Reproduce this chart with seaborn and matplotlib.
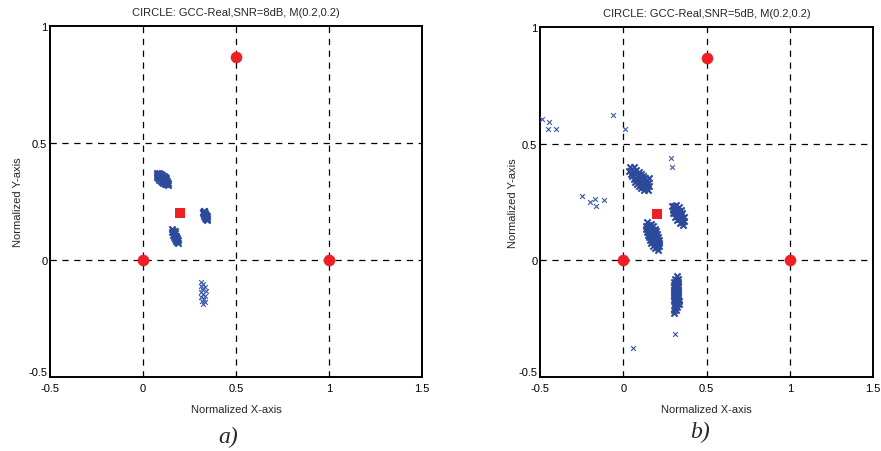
import matplotlib
matplotlib.use("Agg")
import matplotlib.pyplot as plt
import seaborn as sns
import pandas as pd

sns.set_style("white")
plt.rcParams['font.family'] = ['Liberation Sans', 'DejaVu Sans']

# ---------------- data ----------------
titles = ["CIRCLE: GCC-Real,SNR=8dB, M(0.2,0.2)", "CIRCLE: GCC-Real,SNR=5dB, M(0.2,0.2)"]
captions = ["a)", "b)"]
x_ticks = [-0.5, 0, 0.5, 1, 1.5]
y_ticks = [-0.5, 0, 0.5, 1]
x_tick_labels = ["-0.5", "0", "0.5", "1", "1.5"]
y_tick_labels = ["-0.5", "0", "0.5", "1"]
anchor_x = [0.0, 1.0, 0.5]          # red circles (reference nodes)
anchor_y = [0.0, 0.0, 0.866]
target_x = [0.2]                    # red square M(0.2,0.2)
target_y = [0.2]

# panel a) estimated positions
a_c1 = [(0.075, 0.372), (0.081, 0.367), (0.087, 0.371), (0.075, 0.363), (0.087, 0.362),
        (0.097, 0.369), (0.077, 0.355), (0.093, 0.357), (0.104, 0.365), (0.082, 0.349),
        (0.099, 0.352), (0.110, 0.360), (0.088, 0.344), (0.105, 0.347), (0.116, 0.355),
        (0.094, 0.339), (0.111, 0.342), (0.121, 0.349), (0.101, 0.335), (0.117, 0.337),
        (0.126, 0.343), (0.108, 0.331), (0.123, 0.332), (0.130, 0.337), (0.116, 0.327),
        (0.129, 0.327), (0.133, 0.330), (0.125, 0.324), (0.135, 0.322)]
a_c2 = [(0.325, 0.210), (0.320, 0.207), (0.330, 0.208), (0.329, 0.202), (0.322, 0.200),
        (0.335, 0.201), (0.332, 0.195), (0.325, 0.193), (0.339, 0.194), (0.336, 0.187),
        (0.329, 0.186), (0.342, 0.188), (0.339, 0.180), (0.334, 0.179), (0.345, 0.181),
        (0.343, 0.172), (0.339, 0.174)]
a_c3 = [(0.158, 0.132), (0.163, 0.122), (0.156, 0.119), (0.170, 0.124), (0.167, 0.112),
        (0.160, 0.109), (0.174, 0.114), (0.172, 0.102), (0.165, 0.099), (0.179, 0.104),
        (0.177, 0.093), (0.170, 0.090), (0.183, 0.095), (0.181, 0.083), (0.175, 0.081),
        (0.187, 0.086), (0.186, 0.073), (0.182, 0.076)]
a_c4 = [(0.309, -0.093), (0.324, -0.103), (0.313, -0.112), (0.331, -0.117), (0.318, -0.124),
        (0.336, -0.131), (0.309, -0.138), (0.324, -0.145), (0.332, -0.152), (0.313, -0.159),
        (0.327, -0.167), (0.318, -0.174), (0.331, -0.181), (0.324, -0.188)]

# panel b) estimated positions
b_c1 = [(0.040, 0.400), (0.051, 0.390), (0.065, 0.398), (0.037, 0.382), (0.062, 0.380),
        (0.079, 0.389), (0.045, 0.371), (0.073, 0.370), (0.092, 0.380), (0.054, 0.360),
        (0.084, 0.360), (0.106, 0.372), (0.062, 0.348), (0.095, 0.366), (0.073, 0.354),
        (0.095, 0.350), (0.119, 0.363), (0.071, 0.337), (0.107, 0.357), (0.083, 0.344),
        (0.106, 0.340), (0.130, 0.353), (0.082, 0.327), (0.118, 0.347), (0.094, 0.334),
        (0.117, 0.330), (0.141, 0.343), (0.093, 0.317), (0.129, 0.337), (0.105, 0.324),
        (0.128, 0.320), (0.147, 0.330), (0.109, 0.310), (0.138, 0.325), (0.118, 0.315),
        (0.139, 0.310), (0.153, 0.318), (0.125, 0.302), (0.150, 0.300), (0.155, 0.354)]
b_c2 = [(0.305, 0.235), (0.316, 0.239), (0.294, 0.231), (0.314, 0.221), (0.332, 0.227),
        (0.296, 0.215), (0.323, 0.208), (0.345, 0.215), (0.301, 0.201), (0.334, 0.211),
        (0.312, 0.204), (0.333, 0.194), (0.355, 0.201), (0.311, 0.187), (0.344, 0.197),
        (0.322, 0.190), (0.342, 0.180), (0.362, 0.186), (0.322, 0.174), (0.352, 0.183),
        (0.332, 0.177), (0.351, 0.166), (0.364, 0.170), (0.338, 0.162), (0.360, 0.152)]
b_c3 = [(0.145, 0.165), (0.152, 0.153), (0.167, 0.157), (0.137, 0.149), (0.158, 0.141),
        (0.178, 0.147), (0.138, 0.135), (0.165, 0.129), (0.190, 0.136), (0.140, 0.122),
        (0.177, 0.132), (0.152, 0.125), (0.171, 0.117), (0.196, 0.124), (0.146, 0.110),
        (0.183, 0.120), (0.159, 0.113), (0.178, 0.105), (0.203, 0.112), (0.153, 0.098),
        (0.190, 0.108), (0.165, 0.101), (0.184, 0.093), (0.209, 0.100), (0.159, 0.086),
        (0.196, 0.096), (0.172, 0.089), (0.191, 0.081), (0.213, 0.087), (0.169, 0.075),
        (0.202, 0.084), (0.180, 0.078), (0.197, 0.069), (0.217, 0.075), (0.177, 0.063),
        (0.204, 0.057), (0.216, 0.060), (0.192, 0.054), (0.210, 0.045)]
b_c4 = [(0.325, -0.068), (0.312, -0.080), (0.328, -0.080), (0.306, -0.092), (0.318, -0.092),
        (0.330, -0.092), (0.305, -0.104), (0.317, -0.104), (0.329, -0.104), (0.306, -0.116),
        (0.318, -0.116), (0.330, -0.116), (0.304, -0.128), (0.316, -0.128), (0.328, -0.128),
        (0.305, -0.140), (0.317, -0.140), (0.329, -0.140), (0.306, -0.152), (0.318, -0.152),
        (0.331, -0.152), (0.305, -0.164), (0.317, -0.164), (0.329, -0.164), (0.306, -0.176),
        (0.318, -0.176), (0.332, -0.176), (0.310, -0.188), (0.322, -0.188), (0.333, -0.188),
        (0.308, -0.200), (0.320, -0.200), (0.304, -0.212), (0.316, -0.212), (0.303, -0.224)]
b_outliers = [(-0.488, 0.607), (-0.448, 0.594), (-0.454, 0.565), (-0.406, 0.565),
              (-0.064, 0.625), (0.008, 0.565), (-0.247, 0.274), (-0.201, 0.252),
              (-0.171, 0.261), (-0.161, 0.231), (-0.116, 0.257), (0.287, 0.437),
              (0.293, 0.398), (0.311, -0.314), (0.056, -0.377)]

dense_a = a_c1 + a_c2 + a_c3
sparse_a = a_c4
dense_b = b_c1 + b_c2 + b_c3 + b_c4
sparse_b = b_outliers

# ---------------- figure ----------------
fig = plt.figure(figsize=(8.81, 4.52), dpi=100)
ax_a = fig.add_axes([0.0568, 0.1637, 0.4223, 0.7765])
ax_b = fig.add_axes([0.613, 0.1637, 0.378, 0.7743])

blue = "#2c4a9c"
red = "#ee2024"

def draw(ax, dense, sparse, title, caption, ylabpad, cap_y):
    for xv in [0, 0.5, 1]:
        ax.axvline(xv, color="black", lw=0.9, ls=(0, (5, 4.5)), zorder=1)
    for yv in [0, 0.5]:
        ax.axhline(yv, color="black", lw=0.9, ls=(0, (5, 4.5)), zorder=1)
    dd = pd.DataFrame(dense, columns=["x", "y"])
    sd = pd.DataFrame(sparse, columns=["x", "y"])
    sns.scatterplot(data=dd, x="x", y="y", marker="x", s=20, color=blue,
                    linewidth=1.5, ax=ax, zorder=3)
    sns.scatterplot(data=sd, x="x", y="y", marker="x", s=12, color="#3a5aa8",
                    linewidth=0.8, ax=ax, zorder=3)
    sns.scatterplot(x=anchor_x, y=anchor_y, marker="o", s=70, color=red,
                    linewidth=0, ax=ax, zorder=4)
    sns.scatterplot(x=target_x, y=target_y, marker="s", s=45, color=red,
                    linewidth=0, ax=ax, zorder=4)
    ax.set_xlim(-0.5, 1.5)
    ax.set_ylim(-0.5, 1.0)
    ax.set_xticks(x_ticks)
    ax.set_xticklabels(x_tick_labels)
    ax.set_yticks(y_ticks)
    ax.set_yticklabels(y_tick_labels)
    ax.tick_params(direction="in", length=3, width=0.8, labelsize=8, pad=2,
                   colors="black", top=False, right=False)
    ax.tick_params(axis="x", pad=4)
    ax.get_yticklabels()[0].set_va("bottom")
    for sp in ax.spines.values():
        sp.set_color("black")
        sp.set_linewidth(1.4)
    ax.set_xlabel("Normalized X-axis", fontsize=8, labelpad=8)
    ax.set_ylabel("Normalized Y-axis", fontsize=8, labelpad=ylabpad)
    ax.set_title(title, fontsize=8, pad=8)
    ax.text(0.48, cap_y, caption, transform=ax.transAxes, ha="center", va="center",
            fontsize=17, fontstyle="italic", family=["Liberation Serif", "DejaVu Serif"])

draw(ax_a, dense_a, sparse_a, titles[0], captions[0], 4, -0.17)
draw(ax_b, dense_b, sparse_b, titles[1], captions[1], 0, -0.155)

fig.savefig("out.png", dpi=100)
